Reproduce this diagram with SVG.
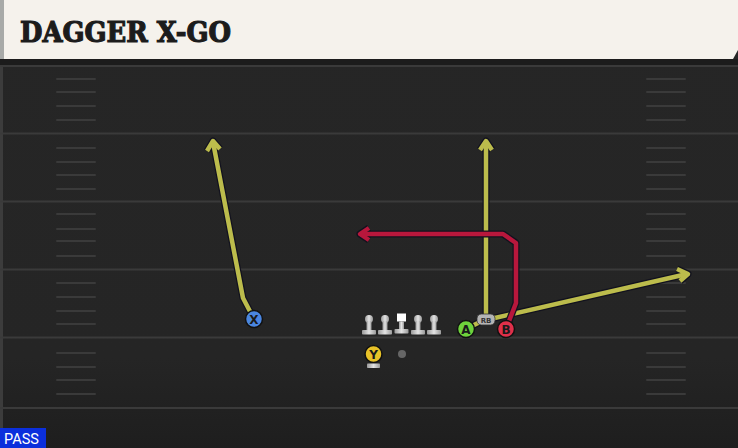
<svg xmlns="http://www.w3.org/2000/svg" width="738" height="448" viewBox="0 0 738 448">
<style>
.maj{stroke:#3a3a3a;stroke-width:2}
.hash{stroke:#3a3a3a;stroke-width:2;stroke-linecap:round}
.out{fill:none;stroke:#12121e;stroke-width:7;stroke-linejoin:round}
.ylw{fill:none;stroke:#bcbc4c;stroke-width:4.5;stroke-linejoin:round}
.red{fill:none;stroke:#b8173c;stroke-width:4.5;stroke-linejoin:round}
.lab{font-family:"DejaVu Sans",sans-serif;font-weight:bold;font-size:12px;fill:#1a1a1a;text-anchor:middle}
</style>
<defs>
<linearGradient id="fld" x1="0" y1="0" x2="0" y2="1">
<stop offset="0" stop-color="#262626"/><stop offset="0.8" stop-color="#252525"/><stop offset="1" stop-color="#1e1e1e"/>
</linearGradient>
<linearGradient id="olg" x1="0" y1="0" x2="1" y2="0">
<stop offset="0" stop-color="#9a9a9a"/><stop offset="0.5" stop-color="#e4e4e4"/><stop offset="1" stop-color="#9a9a9a"/>
</linearGradient>
<g id="lineman">
<circle cx="0" cy="-9" r="4" fill="url(#olg)"/>
<rect x="-2.5" y="-7" width="5" height="9" fill="url(#olg)"/>
<rect x="-7" y="2" width="14" height="4.5" rx="0.8" fill="url(#olg)"/>
</g>
</defs>
<rect width="738" height="448" fill="url(#fld)"/>
<rect x="0" y="0" width="3" height="448" fill="#3c3c3c"/>
<rect x="0" y="59" width="738" height="7" fill="#1c1c1c"/>
<g id="field">
<line class="maj" x1="0" y1="66" x2="738" y2="66"/>
<line class="maj" x1="0" y1="133.5" x2="738" y2="133.5"/>
<line class="maj" x1="0" y1="201.5" x2="738" y2="201.5"/>
<line class="maj" x1="0" y1="269.5" x2="738" y2="269.5"/>
<line class="maj" x1="0" y1="337.5" x2="738" y2="337.5"/>
<line class="maj" x1="0" y1="408" x2="738" y2="408"/>
<g id="hashL">
<line class="hash" x1="57" y1="79" x2="95" y2="79"/>
<line class="hash" x1="57" y1="92" x2="95" y2="92"/>
<line class="hash" x1="57" y1="106" x2="95" y2="106"/>
<line class="hash" x1="57" y1="120" x2="95" y2="120"/>
<line class="hash" x1="57" y1="148" x2="95" y2="148"/>
<line class="hash" x1="57" y1="162" x2="95" y2="162"/>
<line class="hash" x1="57" y1="175" x2="95" y2="175"/>
<line class="hash" x1="57" y1="189" x2="95" y2="189"/>
<line class="hash" x1="57" y1="214" x2="95" y2="214"/>
<line class="hash" x1="57" y1="229" x2="95" y2="229"/>
<line class="hash" x1="57" y1="241" x2="95" y2="241"/>
<line class="hash" x1="57" y1="256" x2="95" y2="256"/>
<line class="hash" x1="57" y1="283" x2="95" y2="283"/>
<line class="hash" x1="57" y1="297" x2="95" y2="297"/>
<line class="hash" x1="57" y1="311" x2="95" y2="311"/>
<line class="hash" x1="57" y1="324" x2="95" y2="324"/>
<line class="hash" x1="57" y1="353" x2="95" y2="353"/>
<line class="hash" x1="57" y1="367" x2="95" y2="367"/>
<line class="hash" x1="57" y1="380" x2="95" y2="380"/>
<line class="hash" x1="57" y1="394" x2="95" y2="394"/>
</g>
<use href="#hashL" x="590"/>
</g>
<g id="header">
<polygon points="3,0 738,0 738,50 733,59 3,59" fill="#f5f2ec"/>
<rect x="0" y="0" width="4" height="59" fill="#a8aaa8"/>
<text x="20" y="42" font-family="DejaVu Serif,serif" font-weight="bold" font-size="27.5" fill="#1c1c1c" stroke="#1c1c1c" stroke-width="1.2" textLength="211" lengthAdjust="spacingAndGlyphs">DAGGER X-GO</text>
</g>
<g id="connectors">
<g id="route-x">
<polyline class="out" points="254,319 243,298 213,142"/>
<polyline class="out" points="207,151 213,141 220,149"/>
<polyline class="ylw" points="254,319 243,298 213,142"/>
<polyline class="ylw" points="207,151 213,141 220,149"/>
</g>
<g id="route-a">
<polyline class="out" points="466,329 486,319 486,142"/>
<polyline class="out" points="480,150 486,141 492,150"/>
<polyline class="ylw" points="466,329 486,319 486,142"/>
<polyline class="ylw" points="480,150 486,141 492,150"/>
</g>
<g id="route-rb">
<polyline class="out" points="486,320 687,274"/>
<polyline class="out" points="677,269 688,274 680,281"/>
<polyline class="ylw" points="486,320 687,274"/>
<polyline class="ylw" points="677,269 688,274 680,281"/>
</g>
<g id="route-b">
<polyline class="out" points="506,329 516,303 516,243 503,234 361,234"/>
<polyline class="out" points="369,228 360,234 369,240"/>
<polyline class="red" points="506,329 516,303 516,243 503,234 361,234"/>
<polyline class="red" points="369,228 360,234 369,240"/>
</g>
</g>
<g id="node-x">
<circle cx="254" cy="319" r="8.5" fill="#4a86e0" stroke="#111" stroke-width="1.5"/>
<text class="lab" x="254" y="323.5">X</text>
</g>
<g id="node-ol">
<use href="#lineman" x="369" y="328"/>
<use href="#lineman" x="385" y="328"/>
<g id="center">
<rect x="397" y="313.5" width="9" height="8" fill="#ffffff"/>
<rect x="399" y="321.5" width="5" height="8.5" fill="url(#olg)"/>
<rect x="394.5" y="329" width="14" height="4.5" rx="0.8" fill="url(#olg)"/>
</g>
<use href="#lineman" x="418" y="328"/>
<use href="#lineman" x="434" y="328"/>
</g>
<g id="node-y">
<circle cx="373.5" cy="354" r="8.5" fill="#e8c228" stroke="#111" stroke-width="1.5"/>
<text class="lab" x="373.5" y="358.5">Y</text>
<rect x="367" y="363.5" width="13" height="4.5" rx="0.8" fill="url(#olg)"/>
</g>
<g id="node-ball">
<circle cx="402" cy="354" r="4" fill="#666"/>
</g>
<g id="node-a">
<circle cx="466" cy="329" r="8.5" fill="#6ed23c" stroke="#111" stroke-width="1.5"/>
<text class="lab" x="466" y="333.5">A</text>
</g>
<g id="node-rb">
<rect x="477" y="314" width="18" height="11" rx="4.5" fill="#b4b4b4" stroke="#333" stroke-width="0.8"/>
<text x="486" y="322.5" font-family="DejaVu Sans,sans-serif" font-weight="bold" font-size="7" fill="#333" text-anchor="middle">RB</text>
</g>
<g id="node-b">
<circle cx="506" cy="329" r="8.5" fill="#e0304a" stroke="#111" stroke-width="1.5"/>
<text class="lab" x="506" y="333.5">B</text>
</g>
<g id="pass">
<rect x="0" y="428" width="46" height="20" fill="#0b2fdc"/>
<text x="4" y="444" font-family="Roboto,sans-serif" font-size="14.5" fill="#ffffff">PASS</text>
</g>
</svg>
